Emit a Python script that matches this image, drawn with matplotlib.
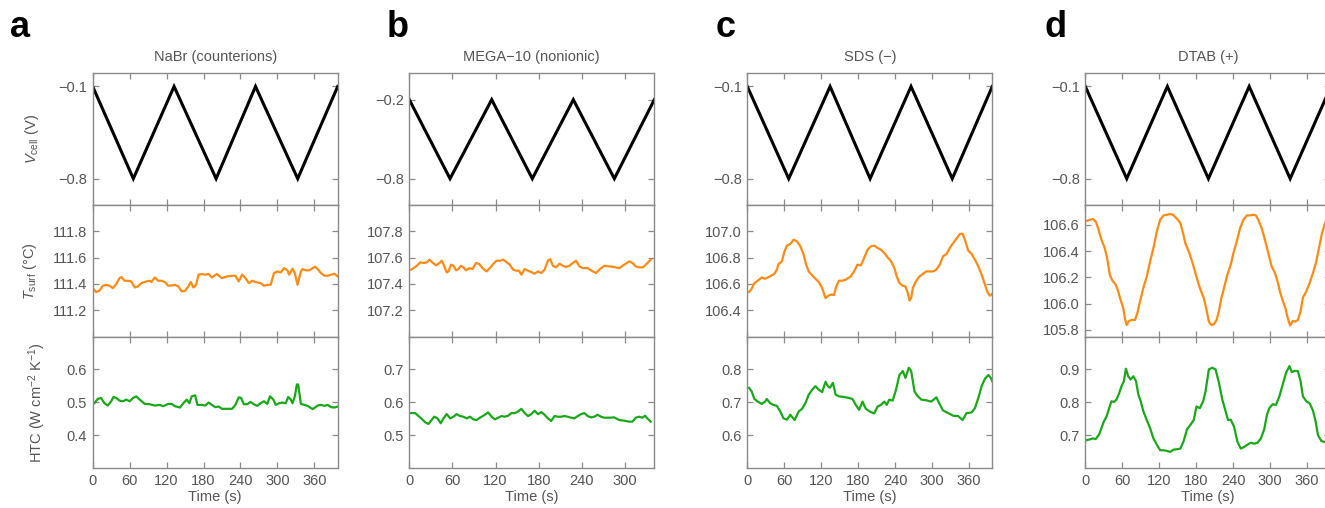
"""Четыре колонки: V_cell, T_surf, HTC при циклировании потенциала."""

import matplotlib
matplotlib.use("Agg")
import matplotlib.pyplot as plt

plt.rcParams["font.family"] = ["Liberation Sans", "DejaVu Sans"]
plt.rcParams["mathtext.fontset"] = "custom"
plt.rcParams["mathtext.rm"] = "Liberation Sans"
plt.rcParams["mathtext.it"] = "Liberation Sans:italic"

GRAY = "#8a8a8a"
TXT = "#555555"
ORANGE = "#ff8a14"
GREEN = "#1aa81a"

letters = ["a", "b", "c", "d"]
titles = ["NaBr (counterions)", "MEGA\u221210 (nonionic)", "SDS (\u2212)", "DTAB (+)"]
xmax = [398, 341, 398, 398]
xticks = [[0, 60, 120, 180, 240, 300, 360], [0, 60, 120, 180, 240, 300],
          [0, 60, 120, 180, 240, 300, 360], [0, 60, 120, 180, 240, 300, 360]]

# треугольная развёртка потенциала (вершины)
v_t = [
    [0, 66, 132.2, 200.5, 264.5, 333, 398],
    [0, 56.7, 114.7, 171.2, 228.3, 285.4, 341],
    [0, 67.3, 134.5, 199.5, 266, 333, 398],
    [0, 67.3, 133.3, 200, 266.2, 332.8, 399],
]
v_hi = [-0.1, -0.2, -0.1, -0.1]
v_lo = -0.8
v_ticks = [[-0.8, -0.1], [-0.8, -0.2], [-0.8, -0.1], [-0.8, -0.1]]

# температура поверхности
ta_t = [2.7, 5.5, 10.9, 16.4, 21.8, 27.3, 32.7, 38.2, 43.6, 46.4, 51.8, 57.3, 62.7, 68.2, 73.6,
        79.1, 87.3, 92.7, 95.5, 100.9, 106.4, 111.8, 117.3, 122.7, 128.2, 133.6, 139.1, 144.5,
        150.0, 155.5, 159.3, 163.6, 168.0, 171.8, 177.3, 182.7, 188.2, 193.6, 201.8, 210.0,
        218.2, 226.4, 231.8, 237.3, 242.7, 248.2, 253.6, 259.1, 264.5, 272.7, 278.2, 283.6,
        289.1, 294.5, 300.0, 305.5, 310.9, 316.4, 319.1, 324.5, 328.4, 332.7, 338.2, 340.9,
        346.4, 351.8, 357.3, 361.1, 365.5, 370.9, 376.4, 381.8, 387.3, 392.7, 398.2]
ta_v = [111.355, 111.338, 111.348, 111.386, 111.393, 111.386, 111.368, 111.399, 111.444, 111.452,
        111.424, 111.424, 111.419, 111.373, 111.381, 111.406, 111.419, 111.424, 111.414, 111.449,
        111.424, 111.424, 111.414, 111.386, 111.388, 111.393, 111.381, 111.343, 111.348, 111.381,
        111.414, 111.373, 111.393, 111.470, 111.475, 111.470, 111.475, 111.449, 111.475, 111.444,
        111.457, 111.462, 111.462, 111.419, 111.470, 111.444, 111.406, 111.424, 111.414, 111.406,
        111.386, 111.393, 111.393, 111.482, 111.495, 111.487, 111.520, 111.503, 111.470, 111.515,
        111.482, 111.393, 111.495, 111.513, 111.503, 111.503, 111.520, 111.531, 111.513, 111.482,
        111.462, 111.462, 111.470, 111.477, 111.457]

tb_t = [2.3, 6.0, 10.6, 15.2, 19.8, 24.5, 28.2, 32.8, 37.4, 42.0, 45.2, 48.5, 52.1, 54.5, 58.1,
        61.4, 65.1, 68.3, 72.0, 75.2, 78.9, 83.5, 88.1, 92.8, 97.4, 102.0, 107.5, 112.1, 116.8,
        121.4, 126.0, 130.6, 135.2, 139.8, 144.5, 149.1, 152.8, 156.0, 160.6, 165.2, 169.8,
        174.4, 179.1, 183.7, 188.3, 192.9, 196.1, 199.8, 204.4, 209.1, 213.7, 218.3, 222.9,
        227.5, 232.1, 236.8, 241.4, 248.3, 252.9, 259.8, 264.4, 271.4, 278.3, 285.2, 292.1,
        299.1, 306.0, 310.6, 315.2, 319.8, 325.4, 330.0, 336.0]
tb_v = [107.508, 107.520, 107.538, 107.564, 107.559, 107.564, 107.584, 107.559, 107.541, 107.559,
        107.576, 107.538, 107.487, 107.495, 107.546, 107.538, 107.503, 107.513, 107.538, 107.526,
        107.503, 107.520, 107.513, 107.559, 107.551, 107.520, 107.495, 107.520, 107.551, 107.576,
        107.576, 107.584, 107.566, 107.546, 107.508, 107.500, 107.500, 107.470, 107.513, 107.500,
        107.490, 107.477, 107.495, 107.482, 107.508, 107.576, 107.589, 107.538, 107.526, 107.554,
        107.538, 107.528, 107.538, 107.559, 107.576, 107.533, 107.520, 107.520, 107.503, 107.482,
        107.508, 107.538, 107.533, 107.528, 107.520, 107.546, 107.571, 107.559, 107.533, 107.526,
        107.526, 107.551, 107.584]

tc_t = [2.7, 7.1, 11.5, 16.9, 23.5, 28.9, 33.3, 38.7, 44.2, 48.0, 50.7, 56.2, 60.5, 64.4, 69.8,
        75.3, 80.7, 86.2, 91.6, 95.5, 99.8, 105.3, 110.7, 116.2, 121.6, 127.1, 131.5, 136.9,
        140.7, 144.6, 148.9, 154.4, 159.8, 168.0, 173.5, 178.9, 184.4, 189.8, 195.3, 200.7,
        206.2, 211.6, 217.1, 222.6, 228.0, 233.5, 238.9, 242.7, 247.1, 252.6, 256.9, 260.7,
        263.5, 266.2, 268.9, 274.4, 279.8, 285.3, 290.7, 296.2, 301.7, 307.1, 312.6, 318.0,
        323.5, 328.9, 334.4, 339.8, 345.3, 349.7, 353.5, 358.9, 364.4, 369.8, 375.3, 380.7,
        386.2, 390.0, 394.4, 398.7]
tc_v = [106.538, 106.563, 106.606, 106.624, 106.649, 106.639, 106.649, 106.662, 106.677, 106.708,
        106.751, 106.772, 106.848, 106.891, 106.903, 106.936, 106.924, 106.886, 106.822, 106.746,
        106.695, 106.665, 106.639, 106.614, 106.568, 106.492, 106.510, 106.520, 106.515, 106.581,
        106.624, 106.624, 106.632, 106.657, 106.695, 106.746, 106.741, 106.797, 106.860, 106.886,
        106.891, 106.873, 106.860, 106.835, 106.802, 106.772, 106.721, 106.657, 106.606, 106.586,
        106.581, 106.530, 106.474, 106.492, 106.568, 106.624, 106.657, 106.677, 106.695, 106.695,
        106.695, 106.708, 106.746, 106.810, 106.827, 106.873, 106.911, 106.944, 106.980, 106.982,
        106.936, 106.853, 106.827, 106.784, 106.733, 106.670, 106.593, 106.538, 106.510, 106.530]

td_t = [2.7, 7.1, 12.5, 16.9, 20.7, 26.2, 31.6, 35.5, 39.8, 44.2, 49.6, 53.5, 57.3, 61.7, 64.4,
        67.1, 70.9, 75.3, 80.7, 84.5, 88.9, 94.4, 99.8, 105.3, 110.7, 116.2, 121.6, 127.1, 132.5,
        138.0, 142.4, 147.8, 154.4, 158.7, 162.5, 168.0, 173.5, 178.9, 184.4, 188.2, 192.6,
        196.9, 200.7, 204.5, 208.9, 213.3, 217.1, 220.9, 225.3, 230.7, 236.2, 240.6, 246.0,
        251.5, 256.9, 262.4, 267.8, 273.3, 277.1, 280.9, 286.4, 291.8, 297.3, 302.7, 308.2,
        312.6, 316.9, 321.3, 325.1, 328.9, 332.7, 337.1, 340.9, 345.3, 349.7, 353.5, 358.9,
        364.4, 369.8, 375.3, 380.7, 384.6, 388.9, 392.2, 398.0]
td_v = [106.630, 106.638, 106.643, 106.625, 106.575, 106.486, 106.422, 106.346, 106.219, 106.173,
        106.143, 106.092, 106.029, 105.965, 105.889, 105.838, 105.868, 105.876, 105.876, 105.927,
        106.016, 106.122, 106.206, 106.321, 106.422, 106.549, 106.638, 106.671, 106.676, 106.681,
        106.676, 106.651, 106.613, 106.537, 106.460, 106.397, 106.321, 106.232, 106.143, 106.092,
        106.041, 105.952, 105.863, 105.838, 105.843, 105.876, 105.945, 106.041, 106.117, 106.219,
        106.295, 106.384, 106.473, 106.575, 106.638, 106.671, 106.671, 106.676, 106.671, 106.638,
        106.575, 106.486, 106.384, 106.283, 106.232, 106.163, 106.079, 106.016, 105.965, 105.889,
        105.833, 105.868, 105.863, 105.876, 105.940, 106.046, 106.092, 106.156, 106.232, 106.321,
        106.448, 106.537, 106.605, 106.638, 106.670]

# коэффициент теплоотдачи
ha_t = [2.7, 8.2, 13.6, 19.1, 24.5, 30.0, 33.8, 38.2, 43.6, 49.1, 54.5, 60.0, 65.5, 70.9, 76.4,
        84.5, 92.7, 100.9, 109.1, 114.5, 122.7, 128.2, 133.6, 141.8, 147.3, 152.7, 157.1, 160.9,
        166.4, 170.2, 177.3, 182.7, 188.2, 193.6, 199.1, 204.5, 210.0, 218.2, 226.4, 231.8,
        237.3, 241.1, 245.5, 250.9, 256.4, 261.8, 267.3, 272.7, 278.2, 283.6, 288.0, 293.5,
        297.3, 302.7, 308.2, 313.6, 317.5, 321.8, 324.5, 328.4, 331.6, 333.8, 338.2, 343.6,
        349.1, 357.3, 365.5, 370.9, 376.4, 381.8, 387.3, 392.7, 398.2]
ha_v = [0.497, 0.510, 0.513, 0.497, 0.490, 0.503, 0.516, 0.513, 0.505, 0.503, 0.508, 0.503,
        0.513, 0.518, 0.508, 0.495, 0.494, 0.490, 0.492, 0.488, 0.495, 0.495, 0.488, 0.484,
        0.497, 0.508, 0.497, 0.518, 0.521, 0.492, 0.492, 0.490, 0.499, 0.492, 0.485, 0.487,
        0.480, 0.480, 0.480, 0.492, 0.515, 0.513, 0.494, 0.494, 0.501, 0.494, 0.489, 0.497,
        0.503, 0.495, 0.518, 0.508, 0.492, 0.497, 0.499, 0.497, 0.516, 0.508, 0.497, 0.518,
        0.554, 0.554, 0.495, 0.492, 0.489, 0.479, 0.490, 0.492, 0.489, 0.492, 0.485, 0.484,
        0.487]

hb_t = [2.3, 8.3, 12.9, 17.5, 22.2, 26.8, 30.0, 34.6, 39.2, 43.8, 47.5, 52.1, 56.8, 61.4, 66.0,
        70.6, 75.2, 79.8, 84.5, 89.1, 93.7, 98.3, 105.2, 109.8, 114.5, 119.1, 123.7, 128.3,
        132.9, 137.5, 142.1, 146.8, 151.4, 156.0, 160.6, 165.2, 169.8, 174.4, 179.1, 183.7,
        188.3, 192.9, 197.5, 202.1, 206.8, 211.4, 216.0, 220.6, 225.2, 229.8, 234.4, 239.1,
        243.7, 248.3, 252.9, 257.5, 262.1, 266.8, 271.4, 278.3, 285.2, 292.1, 299.1, 306.0,
        310.6, 315.2, 319.8, 324.4, 328.1, 331.4, 336.0]
hb_v = [0.567, 0.567, 0.558, 0.549, 0.539, 0.534, 0.543, 0.556, 0.551, 0.536, 0.551, 0.564,
        0.551, 0.556, 0.564, 0.558, 0.556, 0.551, 0.556, 0.548, 0.546, 0.553, 0.562, 0.569,
        0.556, 0.548, 0.553, 0.558, 0.556, 0.559, 0.567, 0.567, 0.572, 0.580, 0.567, 0.558,
        0.564, 0.574, 0.564, 0.570, 0.562, 0.551, 0.543, 0.558, 0.556, 0.556, 0.558, 0.556,
        0.553, 0.551, 0.558, 0.564, 0.567, 0.558, 0.554, 0.556, 0.562, 0.556, 0.553, 0.553,
        0.554, 0.546, 0.544, 0.541, 0.541, 0.553, 0.556, 0.553, 0.559, 0.551, 0.541]

hc_t = [2.7, 7.1, 11.5, 16.9, 23.5, 28.9, 31.6, 37.1, 42.5, 48.0, 53.5, 58.9, 64.4, 69.8, 76.9,
        83.5, 88.9, 94.4, 99.8, 105.3, 110.7, 116.2, 121.6, 127.1, 130.9, 134.2, 139.1, 143.5,
        148.9, 157.1, 165.3, 170.7, 176.2, 181.6, 187.1, 192.6, 200.7, 206.2, 211.6, 217.1,
        222.6, 226.4, 230.7, 236.2, 241.6, 247.1, 252.6, 256.9, 262.4, 266.2, 271.6, 277.1,
        282.6, 290.7, 298.9, 307.1, 312.6, 318.0, 326.2, 334.4, 342.6, 349.7, 356.2, 364.4,
        369.8, 375.3, 380.7, 386.2, 391.6, 395.5, 398.7]
hc_v = [0.744, 0.733, 0.710, 0.702, 0.695, 0.702, 0.710, 0.697, 0.692, 0.689, 0.672, 0.651,
        0.647, 0.662, 0.646, 0.672, 0.680, 0.697, 0.723, 0.738, 0.749, 0.738, 0.731, 0.762,
        0.749, 0.744, 0.759, 0.723, 0.718, 0.716, 0.713, 0.710, 0.692, 0.677, 0.702, 0.680,
        0.670, 0.666, 0.687, 0.692, 0.702, 0.692, 0.708, 0.705, 0.738, 0.783, 0.795, 0.774,
        0.805, 0.795, 0.733, 0.718, 0.708, 0.706, 0.702, 0.715, 0.694, 0.675, 0.667, 0.659,
        0.658, 0.646, 0.667, 0.669, 0.682, 0.713, 0.749, 0.772, 0.783, 0.774, 0.761]

hd_t = [2.7, 7.1, 12.5, 16.9, 22.4, 26.2, 30.0, 34.4, 38.7, 42.5, 46.4, 50.7, 55.1, 58.9, 62.7,
        66.0, 69.8, 73.6, 78.0, 82.4, 86.2, 90.0, 94.4, 99.8, 105.3, 110.7, 116.2, 121.6, 127.1,
        132.5, 138.0, 143.5, 148.9, 154.4, 159.8, 165.3, 170.7, 176.2, 180.6, 186.0, 191.5,
        195.3, 200.7, 206.2, 211.6, 217.1, 222.6, 228.0, 231.8, 236.2, 241.6, 247.1, 252.6,
        258.0, 263.5, 268.9, 274.4, 279.8, 285.3, 290.7, 295.1, 298.9, 304.4, 309.8, 315.3,
        320.7, 326.2, 331.6, 335.5, 339.8, 345.3, 349.7, 353.5, 358.9, 364.4, 369.8, 374.2,
        378.0, 383.5, 388.9, 398.0]
hd_v = [0.685, 0.687, 0.690, 0.688, 0.702, 0.721, 0.741, 0.756, 0.782, 0.803, 0.801, 0.808,
        0.828, 0.849, 0.864, 0.902, 0.879, 0.869, 0.879, 0.864, 0.823, 0.803, 0.772, 0.746,
        0.721, 0.690, 0.671, 0.654, 0.654, 0.652, 0.649, 0.656, 0.657, 0.659, 0.682, 0.718,
        0.731, 0.746, 0.787, 0.782, 0.803, 0.833, 0.900, 0.905, 0.900, 0.859, 0.808, 0.772,
        0.746, 0.747, 0.726, 0.680, 0.659, 0.664, 0.671, 0.677, 0.674, 0.677, 0.690, 0.718,
        0.762, 0.782, 0.794, 0.792, 0.818, 0.854, 0.890, 0.910, 0.892, 0.895, 0.895, 0.864,
        0.818, 0.803, 0.797, 0.775, 0.741, 0.700, 0.682, 0.679, 0.675]

temp_t = [ta_t, tb_t, tc_t, td_t]
temp_v = [ta_v, tb_v, tc_v, td_v]
temp_lim = [(111.0, 112.0), (107.0, 108.0), (106.2, 107.2), (105.75, 106.75)]
temp_ticks = [[111.2, 111.4, 111.6, 111.8], [107.2, 107.4, 107.6, 107.8],
              [106.4, 106.6, 106.8, 107.0], [105.8, 106.0, 106.2, 106.4, 106.6]]

htc_t = [ha_t, hb_t, hc_t, hd_t]
htc_v = [ha_v, hb_v, hc_v, hd_v]
htc_lim = [(0.3, 0.7), (0.4, 0.8), (0.5, 0.9), (0.6, 1.0)]
htc_ticks = [[0.4, 0.5, 0.6], [0.5, 0.6, 0.7], [0.6, 0.7, 0.8], [0.7, 0.8, 0.9]]


def style_axis(ax, xmax_, xt, bottom):
    ax.set_xlim(0, xmax_)
    ax.set_xticks(xt)
    for sp in ax.spines.values():
        sp.set_color(GRAY)
        sp.set_linewidth(1.0)
    ax.tick_params(direction="in", length=4, width=0.9, color=GRAY, labelcolor=TXT,
                   labelsize=10.5, top=True, right=True, pad=4)
    if not bottom:
        ax.tick_params(labelbottom=False)


W, H = 1325, 508
fig = plt.figure(figsize=(W / 100, H / 100), dpi=100)

col_left = [92.7, 409.3, 747.3, 1085.3]
col_w = 245
row_edges = [(73.3, 205), (205, 336.5), (336.5, 468)]

for i in range(4):
    axes = []
    for r, (top, bot) in enumerate(row_edges):
        ax = fig.add_axes([col_left[i] / W, 1 - bot / H, col_w / W, (bot - top) / H])
        axes.append(ax)
    ax_v, ax_t, ax_h = axes

    v_vals = [v_hi[i] if k % 2 == 0 else v_lo for k in range(len(v_t[i]))]
    ax_v.plot(v_t[i], v_vals, color="black", lw=2.2, solid_joinstyle="miter")
    ax_v.set_ylim(-1.0, 0.0)
    ax_v.set_yticks(v_ticks[i])
    style_axis(ax_v, xmax[i], xticks[i], False)
    ax_v.set_title(titles[i], fontsize=10.5, color=TXT, pad=8.5)

    ax_t.plot(temp_t[i], temp_v[i], color=ORANGE, lw=1.6)
    ax_t.set_ylim(*temp_lim[i])
    ax_t.set_yticks(temp_ticks[i])
    ax_t.set_yticklabels([f"{t:.1f}" for t in temp_ticks[i]])
    style_axis(ax_t, xmax[i], xticks[i], False)

    ax_h.plot(htc_t[i], htc_v[i], color=GREEN, lw=1.6)
    ax_h.set_ylim(*htc_lim[i])
    ax_h.set_yticks(htc_ticks[i])
    style_axis(ax_h, xmax[i], xticks[i], True)
    ax_h.set_xlabel("Time (s)", fontsize=10.5, color=TXT, labelpad=2)

    fig.text([10, 387, 716, 1045][i] / W, 1 - 37 / H, letters[i], fontsize=26,
             fontweight="bold", va="baseline", ha="left")

    if i == 0:
        ax_v.set_ylabel(r"$V_{\mathrm{cell}}$ (V)", fontsize=10.5, color=TXT)
        ax_v.yaxis.set_label_coords(-0.213, 0.5)
        ax_t.set_ylabel(r"$T_{\mathrm{surf}}$ (°C)", fontsize=10.5, color=TXT)
        ax_t.yaxis.set_label_coords(-0.22, 0.5)
        ax_h.set_ylabel(r"HTC (W cm$^{-2}$ K$^{-1}$)", fontsize=10.5, color=TXT)
        ax_h.yaxis.set_label_coords(-0.184, 0.5)

fig.savefig("out.png", dpi=100)
